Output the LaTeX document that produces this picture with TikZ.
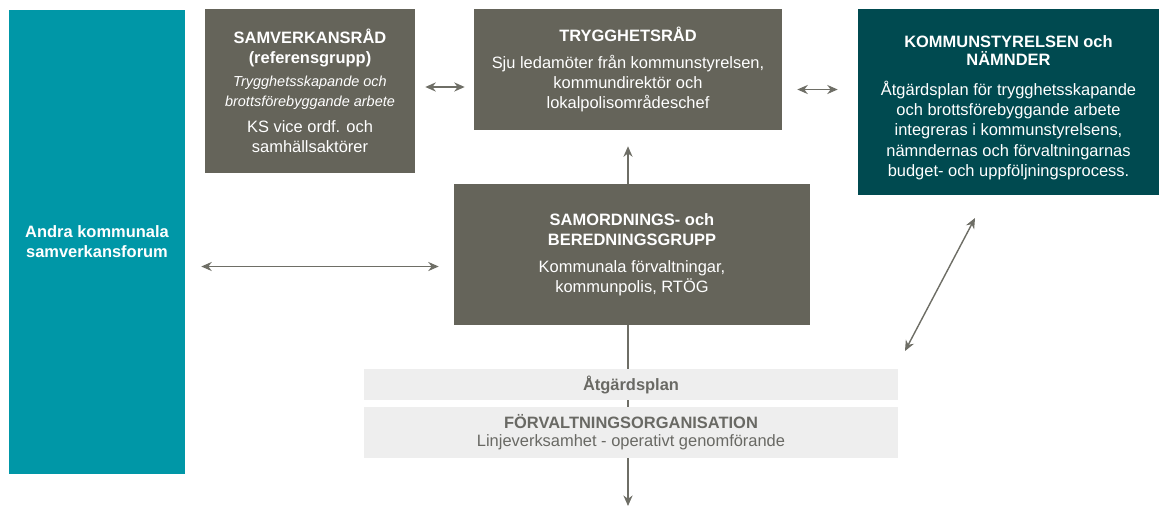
\documentclass[tikz,border=0pt]{standalone}
\usepackage{fontspec}
\setmainfont{Liberation Sans}
\usetikzlibrary{arrows.meta,calc}
\definecolor{BoxClr}{RGB}{101,100,90}
\definecolor{ForumClr}{RGB}{0,151,167}
\definecolor{BoardClr}{RGB}{0,74,80}
\definecolor{PlanClr}{RGB}{238,238,238}
\definecolor{PlanTextClr}{RGB}{105,105,100}
\definecolor{LineClr}{RGB}{110,110,102}

\begin{document}
\begin{tikzpicture}[x=0.025cm,y=-0.025cm,
  box/.style={fill=BoxClr,text=white,align=center,inner sep=0pt,
    font=\fontsize{11.7}{14.3}\selectfont},
  planbox/.style={fill=PlanClr,text=PlanTextClr,align=center,inner sep=0pt,
    minimum width=534*0.025cm,font=\fontsize{11.7}{13}\selectfont},
  link/.style={LineClr,line width=1pt,{Stealth[length=7.5pt,width=6.5pt]}-{Stealth[length=7.5pt,width=6.5pt]}},
  oneway/.style={LineClr,line width=1pt,-{Stealth[length=7.5pt,width=6.5pt]}}]
\useasboundingbox (0,0) rectangle (1159,507);

% boxes
\node[box,fill=ForumClr,minimum width=176*0.025cm,minimum height=464*0.025cm] (forum) at (97,242)
  {\bfseries Andra kommunala\\ \bfseries samverkansforum};
\node[box,minimum width=210*0.025cm,minimum height=164*0.025cm] (samverkan) at (310,91)
  {\bfseries SAMVERKANSRÅD\\ \bfseries (referensgrupp)\\[2pt]
   {\fontsize{10.3}{12.8}\selectfont\itshape Trygghetsskapande och}\\
   {\fontsize{10.3}{12.8}\selectfont\itshape brottsförebyggande arbete}\\[4pt]
   KS vice ordf. och\\ samhällsaktörer};
\node[box,minimum width=308*0.025cm,minimum height=121*0.025cm] (trygg) at (628,69.5)
  {\bfseries TRYGGHETSRÅD\\[5pt]
   Sju ledamöter från kommunstyrelsen,\\ kommundirektör och\\ lokalpolisområdeschef};
\node[box,fill=BoardClr,minimum width=301*0.025cm,minimum height=186*0.025cm] (kommun) at (1008.5,102)
  {\bfseries KOMMUNSTYRELSEN och\\[-1.5pt] \bfseries NÄMNDER\\[7pt]
   Åtgärdsplan för trygghetsskapande\\ och brottsförebyggande arbete\\
   integreras i kommunstyrelsens,\\ nämndernas och förvaltningarnas\\
   budget- och uppföljningsprocess.\\[-20pt]\mbox{}};
\node[box,minimum width=356*0.025cm,minimum height=141*0.025cm] (samord) at (632,254.5)
  {\bfseries SAMORDNINGS- och\\ \bfseries BEREDNINGSGRUPP\\[5pt]
   Kommunala förvaltningar,\\ kommunpolis, RTÖG};

% line down through the plan
\coordinate (out) at (628,506);
\draw[oneway] (trygg.south |- samord.south) -- (out);

\node[planbox,minimum height=31*0.025cm] (plan) at (631,384.5) {\bfseries Åtgärdsplan};
\node[planbox,minimum height=51*0.025cm] (forvalt) at (631,432.5)
  {\bfseries FÖRVALTNINGSORGANISATION\\ Linjeverksamhet - operativt genomförande};

% arrows
\draw[link,shorten <=10*0.025cm,shorten >=9*0.025cm] ([yshift=0.1cm]samverkan.east) -- ([yshift=0.1cm]samverkan.east -| trygg.west);
\draw[link,shorten <=15*0.025cm,shorten >=20*0.025cm] ([yshift=-0.5cm]trygg.east) -- ([yshift=-0.5cm]trygg.east -| kommun.west);
\draw[link,shorten <=15*0.025cm,shorten >=16*0.025cm] ([yshift=-0.3cm]samord.west) -- ([yshift=-0.3cm]samord.west -| forum.east);
\draw[oneway,shorten >=16*0.025cm] (trygg.south |- samord.north) -- (trygg.south);
\coordinate (ksA) at (975,218);
\coordinate (ksB) at (905,351);
\draw[link] (ksB) -- (ksA);
\end{tikzpicture}
\end{document}
